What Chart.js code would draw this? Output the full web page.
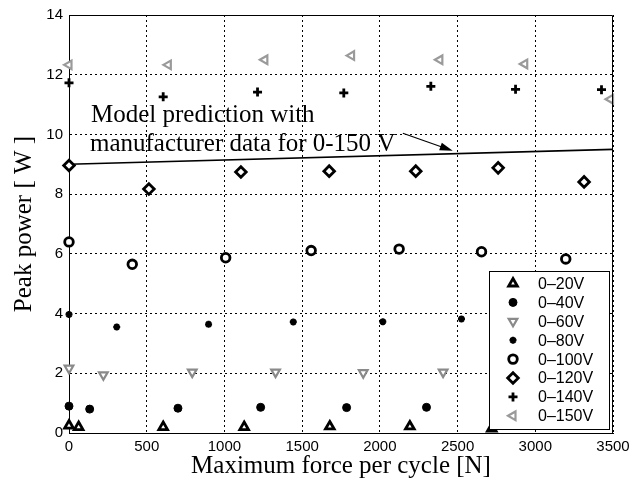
<!DOCTYPE html>
<html>
<head>
<meta charset="utf-8">
<script src="https://cdn.jsdelivr.net/npm/chart.js"></script>
<style>
  body { margin: 0; background: #fff; }
  #wrap { width: 639px; height: 482px; }
</style>
</head>
<body>
<div id="wrap"><canvas id="powerChart" width="639" height="482"></canvas></div>
<script>
// Data
const labels = ['0\u201320V', '0\u201340V', '0\u201360V', '0\u201380V', '0\u2013100V', '0\u2013120V', '0\u2013140V', '0\u2013150V'];

const force20 = [0, 62, 606, 1127, 1678, 2193, 2720];
const power20 = [0.25, 0.2, 0.2, 0.2, 0.22, 0.22, 0.15];

const force40 = [0, 133, 701, 1233, 1786, 2300];
const power40 = [0.9, 0.8, 0.83, 0.86, 0.85, 0.86];

const force60 = [0, 221, 793, 1329, 1893, 2407];
const power60 = [2.17, 1.95, 2.04, 2.04, 2.02, 2.04];

const force80 = [0, 307, 898, 1443, 2019, 2525];
const power80 = [3.97, 3.55, 3.64, 3.72, 3.73, 3.82];

const force100 = [0, 407, 1008, 1558, 2124, 2654, 3196];
const power100 = [6.4, 5.65, 5.87, 6.11, 6.16, 6.07, 5.83];

const force120 = [0, 514, 1106, 1674, 2231, 2761, 3314];
const power120 = [8.96, 8.17, 8.74, 8.77, 8.77, 8.88, 8.41];

const force140 = [0, 606, 1213, 1768, 2328, 2873, 3426];
const power140 = [11.73, 11.26, 11.42, 11.39, 11.61, 11.51, 11.5];

const force150 = [0, 639, 1260, 1818, 2386, 2932, 3484];
const power150 = [12.33, 12.33, 12.5, 12.64, 12.5, 12.36, 11.18];

const modelForce = [0, 3500];
const modelPower = [9.0, 9.5];

const annotationLines = ['Model prediction with', 'manufacturer data for 0-150 V'];
const arrowFrom = [2148, 10.04];
const arrowTo = [2469, 9.45];

const xTicks = [0, 500, 1000, 1500, 2000, 2500, 3000, 3500];
const yTicks = [0, 2, 4, 6, 8, 10, 12, 14];

function pairs(xs, ys) {
    return xs.map(function(x, i) { return { x: x, y: ys[i] }; });
}

function markerSet(label, xs, ys, style, rotation, radius, fill, stroke, width) {
    return {
        label: label,
        data: pairs(xs, ys),
        pointStyle: style,
        pointRotation: rotation,
        pointRadius: radius,
        pointHoverRadius: radius,
        pointBackgroundColor: fill,
        pointBorderColor: stroke,
        pointBorderWidth: width,
        showLine: false,
        clip: false
    };
}

const serif = '"Liberation Serif", "Times New Roman", Times, serif';
const sans = '"Liberation Sans", Helvetica, Arial, sans-serif';

const markerSets = [
    markerSet(labels[0], force20, power20, 'triangle', 0, 5, '#fff', '#000', 2.8),
    markerSet(labels[1], force40, power40, 'circle', 0, 4, '#000', '#000', 1),
    markerSet(labels[2], force60, power60, 'triangle', 180, 5, '#fff', '#8a8a8a', 2.2),
    markerSet(labels[3], force80, power80, 'star', 0, 3.5, '#000', '#000', 2.2),
    markerSet(labels[4], force100, power100, 'circle', 0, 4.3, '#fff', '#000', 2.8),
    markerSet(labels[5], force120, power120, 'rectRot', 0, 5.3, '#fff', '#000', 2.8),
    markerSet(labels[6], force140, power140, 'cross', 0, 4.5, '#000', '#000', 2.8),
    markerSet(labels[7], force150, power150, 'triangle', 270, 5, '#fff', '#9a9a9a', 2.2)
];

const modelLine = {
    label: 'model',
    data: pairs(modelForce, modelPower),
    showLine: true,
    borderColor: '#000',
    borderWidth: 1.6,
    pointRadius: 0,
    fill: false
};

// box, annotation, arrow and legend inside the plot
const extras = {
    id: 'extras',
    afterDatasetsDraw: function(chart) {
        const ctx = chart.ctx;
        const area = chart.chartArea;
        const xs = chart.scales.x;
        const ys = chart.scales.y;

        ctx.save();
        ctx.strokeStyle = '#000';
        ctx.lineWidth = 1;
        ctx.beginPath();
        ctx.moveTo(area.left, area.top + 0.5);
        ctx.lineTo(area.right - 0.5, area.top + 0.5);
        ctx.lineTo(area.right - 0.5, area.bottom);
        ctx.stroke();

        // annotation text
        ctx.fillStyle = '#000';
        ctx.font = '25px ' + serif;
        ctx.textAlign = 'left';
        ctx.textBaseline = 'alphabetic';
        ctx.fillText(annotationLines[0], area.left + 22, area.top + 107);
        ctx.fillText(annotationLines[1], area.left + 21, area.top + 136);

        // arrow
        const x1 = xs.getPixelForValue(arrowFrom[0]);
        const y1 = ys.getPixelForValue(arrowFrom[1]);
        const x2 = xs.getPixelForValue(arrowTo[0]);
        const y2 = ys.getPixelForValue(arrowTo[1]);
        const ang = Math.atan2(y2 - y1, x2 - x1);
        ctx.lineWidth = 1.2;
        ctx.beginPath();
        ctx.moveTo(x1, y1);
        ctx.lineTo(x2 - 10 * Math.cos(ang), y2 - 10 * Math.sin(ang));
        ctx.stroke();
        ctx.beginPath();
        ctx.moveTo(x2, y2);
        ctx.lineTo(x2 - 13 * Math.cos(ang) + 4 * Math.sin(ang), y2 - 13 * Math.sin(ang) - 4 * Math.cos(ang));
        ctx.lineTo(x2 - 13 * Math.cos(ang) - 4 * Math.sin(ang), y2 - 13 * Math.sin(ang) + 4 * Math.cos(ang));
        ctx.closePath();
        ctx.fill();

        // legend box
        const w = 120, h = 158;
        const lx = area.right - 4 - w;
        const ly = area.bottom - 4 - h;
        ctx.fillStyle = '#fff';
        ctx.fillRect(lx, ly, w, h);
        ctx.strokeStyle = '#000';
        ctx.lineWidth = 1;
        ctx.strokeRect(lx + 0.5, ly + 0.5, w, h);

        ctx.font = '16px ' + sans;
        ctx.textBaseline = 'middle';
        markerSets.forEach(function(ds, i) {
            const cy = ly + 12.5 + i * 18.9;
            ctx.fillStyle = ds.pointBackgroundColor;
            ctx.strokeStyle = ds.pointBorderColor;
            ctx.lineWidth = ds.pointBorderWidth;
            Chart.helpers.drawPoint(ctx, {
                pointStyle: ds.pointStyle,
                rotation: ds.pointRotation,
                radius: ds.pointRadius,
                borderWidth: ds.pointBorderWidth
            }, lx + 24, cy);
            ctx.fillStyle = '#000';
            ctx.fillText(ds.label, lx + 49, cy + 1);
        });
        ctx.restore();
    }
};

const chartCanvas = document.getElementById('powerChart');
const ctx = chartCanvas.getContext('2d');

const powerChart = new Chart(ctx, {
    type: 'scatter',
    data: {
        datasets: markerSets.concat([modelLine])
    },
    options: {
        responsive: false,
        animation: false,
        layout: {
            padding: { top: 11, right: 26, left: 0, bottom: 0 }
        },
        plugins: {
            legend: { display: false },
            tooltip: { enabled: false }
        },
        scales: {
            x: {
                type: 'linear',
                min: 0,
                max: 3500,
                afterBuildTicks: function(scale) {
                    scale.ticks = xTicks.map(function(v) { return { value: v }; });
                },
                afterFit: function(scale) { scale.height = 49; },
                ticks: {
                    color: '#000',
                    padding: 5,
                    maxRotation: 0,
                    font: { family: sans, size: 15 },
                    callback: function(value) { return String(value); }
                },
                grid: { color: '#000', lineWidth: 1, drawTicks: false },
                border: { color: '#000', width: 1, dash: [2, 3] },
                title: {
                    display: true,
                    text: 'Maximum force per cycle [N]',
                    color: '#000',
                    font: { family: serif, size: 25, lineHeight: 1 },
                    padding: { top: 0, bottom: 3 }
                }
            },
            y: {
                type: 'linear',
                min: 0,
                max: 14,
                afterBuildTicks: function(scale) {
                    scale.ticks = yTicks.map(function(v) { return { value: v }; });
                },
                afterFit: function(scale) { scale.width = 69; },
                ticks: {
                    color: '#000',
                    padding: 6,
                    font: { family: sans, size: 15 },
                    callback: function(value) { return String(value); }
                },
                grid: { color: '#000', lineWidth: 1, drawTicks: false },
                border: { color: '#000', width: 1, dash: [2, 3] },
                title: {
                    display: true,
                    text: 'Peak power [ W ]',
                    color: '#000',
                    font: { family: serif, size: 25, lineHeight: 1 },
                    padding: { top: 11.5, bottom: 0 }
                }
            }
        }
    },
    plugins: [extras]
});
</script>
</body>
</html>
